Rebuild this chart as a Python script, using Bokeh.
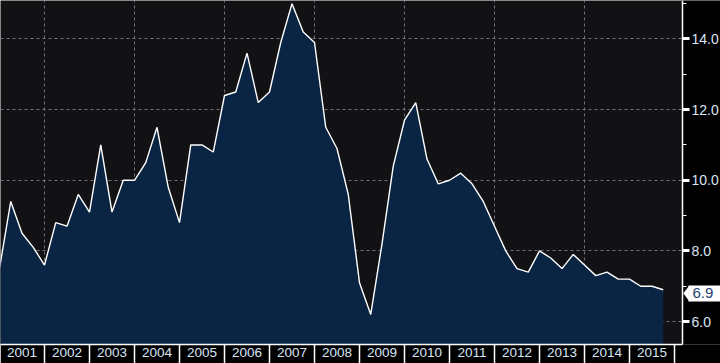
from bokeh.plotting import figure
from bokeh.models import (Range1d, FixedTicker, Label, PolyAnnotation, BoxAnnotation, ColumnDataSource,
                          CustomJSTickFormatter, NumeralTickFormatter, LinearAxis)
from bokeh.embed import file_html
from bokeh.resources import INLINE

# ---- data (quarterly YoY %) ----
years = list(range(2001, 2016))
year_labels = [str(y) for y in years]
periods = ["2000Q4"] + [f"{y}Q{q}" for y in years for q in range(1, 5)][:-1]
values = [7.5,
          9.4, 8.5, 8.1, 7.6,
          8.8, 8.7, 9.6, 9.1,
          11.0, 9.1, 10.0, 10.0,
          10.5, 11.5, 9.8, 8.8,
          11.0, 11.0, 10.8, 12.4,
          12.5, 13.6, 12.2, 12.5,
          13.9, 15.0, 14.2, 13.9,
          11.5, 10.9, 9.6, 7.1,
          6.2, 8.2, 10.4, 11.7,
          12.2, 10.6, 9.9, 10.0,
          10.2, 9.9, 9.4, 8.7,
          8.0, 7.5, 7.4, 8.0,
          7.8, 7.5, 7.9, 7.6,
          7.3, 7.4, 7.2, 7.2,
          7.0, 7.0, 6.9]
y_ticks = [6, 8, 10, 12, 14]
y_minor = [5, 7, 9, 11, 13, 15]
grid_years = [2002, 2004, 2006, 2008, 2010, 2012, 2014]

t = [int(pq[:4]) + int(pq[5]) / 4 for pq in periods]
base = [5.0] * len(values)
src = ColumnDataSource(dict(t=t, v=values, base=base))

TXT = "#d8e6f5"
PX = 45.0                      # pixels per year
t_left = 2001 + 1 / PX         # time at left edge of the frame
t_axis = 2001 + 683 / PX       # time where the value axis sits
t_right = 2001 + 721 / PX      # time at right edge of the frame

p = figure(width=720, height=363, output_backend="svg", toolbar_location=None,
           x_range=Range1d(t_left, t_right),
           y_range=Range1d(5.35, 15.09),
           y_axis_location=None,
           min_border_left=0, min_border_top=0, min_border_right=0, min_border_bottom=19)
p.background_fill_color = "#121215"
p.border_fill_color = "#000000"
p.outline_line_color = None

p.varea(x="t", y1="base", y2="v", source=src, fill_color="#0a2444")
p.line(x="t", y="v", source=src, line_color="white", line_width=1.4)

# black band on the right (behind the value axis)
p.add_layout(BoxAnnotation(left=t_axis, fill_color="black", fill_alpha=1, line_color=None, level="glyph"))

# grids
p.ygrid.ticker = FixedTicker(ticks=y_ticks)
p.xgrid.ticker = FixedTicker(ticks=grid_years)
for g in (p.xgrid, p.ygrid):
    g.grid_line_color = "#8a8a90"
    g.grid_line_dash = "3 3"
    g.grid_line_width = 1
    g.grid_line_alpha = 0.8

# x axis: year labels centred, separators at year boundaries
xa = p.xaxis[0]
xa.ticker = FixedTicker(ticks=[y + 0.5 for y in years], minor_ticks=list(range(2001, 2017)))
xa.formatter = CustomJSTickFormatter(code="return Math.floor(tick).toString();")
xa.bounds = (t_left - 0.1, t_axis)
xa.axis_line_color = "white"
xa.axis_line_width = 1.5
xa.major_tick_line_color = None
xa.major_tick_out = 0
xa.major_tick_in = 0
xa.minor_tick_line_color = "white"
xa.minor_tick_line_width = 1.5
xa.minor_tick_in = 0
xa.minor_tick_out = 19
xa.major_label_text_color = TXT
xa.major_label_text_font = "Liberation Sans"
xa.major_label_text_font_size = "13.5px"
xa.major_label_standoff = -16

# value axis on the right, drawn at a fixed location inside the frame
ya = LinearAxis(fixed_location=t_axis)
ya.ticker = FixedTicker(ticks=y_ticks, minor_ticks=y_minor)
ya.formatter = NumeralTickFormatter(format="0.0")
ya.axis_line_color = "white"
ya.axis_line_width = 1.5
ya.major_tick_line_color = "white"
ya.major_tick_line_width = 3
ya.major_tick_in = 0
ya.major_tick_out = 7
ya.minor_tick_line_color = "white"
ya.minor_tick_line_width = 1
ya.minor_tick_in = 0
ya.minor_tick_out = 4
ya.major_label_text_color = TXT
ya.major_label_text_font = "Liberation Sans"
ya.major_label_text_font_size = "14px"
ya.major_label_standoff = 2
p.add_layout(ya, "right")

# last-value callout
last = values[-1]
p.add_layout(BoxAnnotation(left=688, right=720, left_units="canvas", right_units="canvas",
                           top=last + 0.12, bottom=last - 0.33,
                           fill_color="white", fill_alpha=1, line_color=None))
p.add_layout(PolyAnnotation(xs=[683, 689, 689], ys=[last - 0.1, last + 0.12, last - 0.33],
                            xs_units="canvas", ys_units="data",
                            fill_color="white", fill_alpha=1, line_color="white"))
p.add_layout(Label(x=692, y=last - 0.1, x_units="canvas", y_units="data", text=f"{last:.1f}",
                   text_color="#1b3f73", text_font="Liberation Sans", text_font_size="15px",
                   text_baseline="middle"))

open("out.html", "w").write(file_html(p, INLINE))
